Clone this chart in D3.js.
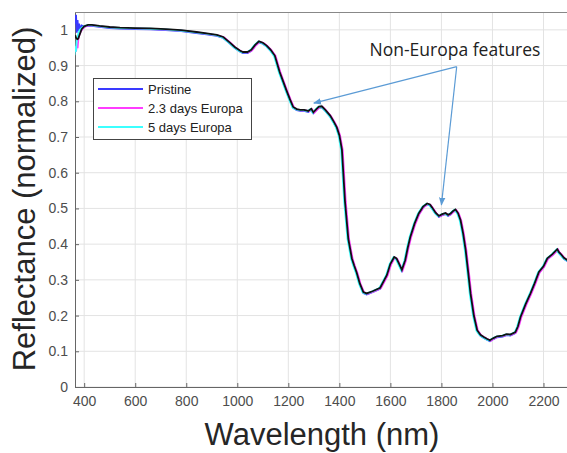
<!DOCTYPE html>
<html>
<head>
<meta charset="utf-8">
<script src="https://cdn.jsdelivr.net/npm/d3@7"></script>
<style>
  body { margin: 0; background: #fff; }
  .tick text { font-family: "Liberation Sans", Arial, sans-serif; font-size: 14px; fill: #4d4d4d; }
</style>
</head>
<body>
<div id="chart"></div>
<script>
//////////
// Data //
//////////

// wavelengths (nm) for the noisy detector start, per series
var headWl = [365, 368, 371, 374, 377, 380, 385, 390, 400];
var headPristine = [1.020, 1.045, 0.995, 1.030, 1.000, 1.020, 1.005, 1.015, 1.012];
var headDay23    = [0.940, 0.960, 0.950, 0.975, 0.985, 0.990, 0.998, 1.003, 1.010];
var headDay5     = [0.930, 0.955, 0.940, 0.970, 0.980, 0.990, 1.000, 1.004, 1.010];
var headRef      = [0.985, 0.978, 0.975, 0.974, 0.976, 0.982, 0.992, 1.002, 1.010];

// shared part of the spectrum (all four curves overlap here)
var wl = [415, 430, 460, 500, 540, 600, 660, 720, 780, 840, 880, 920, 945, 970, 990,
  1010, 1022, 1040, 1055, 1070, 1085, 1100, 1115, 1130, 1147, 1166, 1180, 1193, 1206,
  1219, 1233, 1247, 1262, 1278, 1290, 1298, 1310, 1320, 1331, 1345, 1364, 1378, 1390,
  1400, 1410, 1422, 1435, 1449, 1458, 1468, 1480, 1494, 1507, 1530, 1560, 1586, 1600,
  1615, 1624, 1632, 1645, 1658, 1668, 1678, 1695, 1711, 1728, 1744, 1755, 1763, 1777,
  1790, 1803, 1816, 1826, 1836, 1846, 1855, 1865, 1875, 1885, 1895, 1905, 1914, 1927,
  1940, 1953, 1966, 1978, 1990, 2004, 2018, 2040, 2055, 2070, 2090, 2100, 2110, 2130,
  2149, 2165, 2182, 2200, 2215, 2235, 2254, 2260, 2267, 2280, 2294, 2300];
var refl = [1.014, 1.014, 1.011, 1.008, 1.006, 1.005, 1.004, 1.002, 0.999, 0.994, 0.990, 0.986, 0.980, 0.965, 0.952,
  0.942, 0.938, 0.938, 0.944, 0.958, 0.968, 0.964, 0.956, 0.945, 0.928, 0.882, 0.855, 0.830, 0.806,
  0.784, 0.778, 0.776, 0.776, 0.773, 0.779, 0.769, 0.778, 0.785, 0.786, 0.776, 0.760, 0.743, 0.727,
  0.705, 0.665, 0.520, 0.415, 0.360, 0.340, 0.320, 0.290, 0.266, 0.262, 0.268, 0.278, 0.313, 0.345,
  0.364, 0.360, 0.348, 0.328, 0.355, 0.390, 0.420, 0.458, 0.486, 0.505, 0.514, 0.511, 0.503, 0.488,
  0.479, 0.484, 0.487, 0.482, 0.486, 0.493, 0.497, 0.487, 0.467, 0.430, 0.383, 0.320, 0.262, 0.200,
  0.159, 0.146, 0.140, 0.135, 0.131, 0.137, 0.142, 0.144, 0.148, 0.147, 0.154, 0.170, 0.196, 0.232,
  0.262, 0.290, 0.322, 0.338, 0.360, 0.372, 0.386, 0.378, 0.373, 0.362, 0.355, 0.353];

var xTicks = [400, 600, 800, 1000, 1200, 1400, 1600, 1800, 2000, 2200];
var yTicks = [0, 0.1, 0.2, 0.3, 0.4, 0.5, 0.6, 0.7, 0.8, 0.9, 1];

var seriesNames = ["Pristine", "2.3 days Europa", "5 days Europa"];
var seriesColors = ["#3a3aff", "#ff3cff", "#3cffff"];

function toPoints(hw, hv) {
  var pts = hw.map(function(w, i) { return [w, hv[i]]; });
  return pts.concat(wl.map(function(w, i) { return [w, refl[i]]; }));
}

var series = [
  {name: seriesNames[0], color: seriesColors[0], pts: toPoints(headWl, headPristine), dx: 0, dy: 1},
  {name: seriesNames[1], color: seriesColors[1], pts: toPoints(headWl, headDay23), dx: 0.8, dy: 0.4},
  {name: seriesNames[2], color: seriesColors[2], pts: toPoints(headWl, headDay5), dx: -0.8, dy: 0.3}
];
var refPts = toPoints(headWl, headRef);

//////////////
// Chart    //
//////////////

var W = 567, H = 453;
var margin = {left: 75, right: 569, top: 12, bottom: 387};

var x = d3.scaleLinear().domain([364, 2300]).range([margin.left, margin.right]);
var y = d3.scaleLinear().domain([0, 1.05]).range([margin.bottom, margin.top]);

var svg = d3.select("#chart").append("svg")
    .attr("width", W)
    .attr("height", H);

var defs = svg.append("defs");
defs.append("clipPath").attr("id", "clip")
  .append("rect").attr("x", margin.left).attr("y", margin.top)
    .attr("width", margin.right - margin.left).attr("height", margin.bottom - margin.top);

// grid
svg.append("g").selectAll("line").data(xTicks).enter().append("line")
    .attr("x1", function(d) { return x(d); }).attr("x2", function(d) { return x(d); })
    .attr("y1", margin.top).attr("y2", margin.bottom)
    .attr("stroke", "#e3e3e3").attr("stroke-width", 1);
svg.append("g").selectAll("line").data(yTicks).enter().append("line")
    .attr("x1", margin.left).attr("x2", margin.right)
    .attr("y1", function(d) { return y(d); }).attr("y2", function(d) { return y(d); })
    .attr("stroke", "#e3e3e3").attr("stroke-width", 1);

// axes (ticks point inward, matlab style)
var xAxis = d3.axisBottom(x).tickValues(xTicks).tickSizeInner(-4).tickSizeOuter(0).tickPadding(9)
    .tickFormat(d3.format("d"));
var yAxis = d3.axisLeft(y).tickValues(yTicks).tickSizeInner(-4).tickSizeOuter(0).tickPadding(7)
    .tickFormat(function(d) { return d === 0 || d === 1 ? d : d3.format(".1f")(d); });

function styleAxis(g) {
  g.select(".domain").attr("stroke", "#666");
  g.selectAll(".tick line").attr("stroke", "#666");
}

svg.append("g")
    .attr("transform", "translate(0," + margin.bottom + ")")
    .call(xAxis)
    .call(styleAxis);

svg.append("g")
    .attr("transform", "translate(" + margin.left + ",0)")
    .call(yAxis)
    .call(styleAxis);

// top border
svg.append("line").attr("x1", margin.left).attr("x2", margin.right)
    .attr("y1", margin.top + 0.5).attr("y2", margin.top + 0.5)
    .attr("stroke", "#888").attr("stroke-width", 1);

// curves
var line = d3.line().x(function(d) { return x(d[0]); }).y(function(d) { return y(d[1]); });
var plot = svg.append("g").attr("clip-path", "url(#clip)");

series.forEach(function(s) {
  plot.append("path")
      .attr("d", line(s.pts))
      .attr("transform", "translate(" + s.dx + "," + s.dy + ")")
      .attr("fill", "none")
      .attr("stroke", s.color)
      .attr("stroke-width", 1.8);
});
plot.append("path")
    .attr("d", line(refPts))
    .attr("fill", "none")
    .attr("stroke", "#111")
    .attr("stroke-width", 1.8);

// axis titles
svg.append("text")
    .attr("x", 322).attr("y", 445)
    .attr("text-anchor", "middle")
    .style("font-family", "Liberation Sans, Arial, sans-serif")
    .style("font-size", "31px")
    .attr("fill", "#262626")
    .text("Wavelength (nm)");

svg.append("text")
    .attr("transform", "translate(35,199) rotate(-90)")
    .attr("text-anchor", "middle")
    .style("font-family", "Liberation Sans, Arial, sans-serif")
    .style("font-size", "31px")
    .attr("fill", "#262626")
    .text("Reflectance (normalized)");

// legend
var lg = svg.append("g");
lg.append("rect")
    .attr("x", 93.5).attr("y", 78.5).attr("width", 158).attr("height", 61)
    .attr("fill", "#fff").attr("stroke", "#444").attr("stroke-width", 1);
series.forEach(function(s, i) {
  var ly = 89 + i * 19;
  lg.append("line").attr("x1", 98).attr("x2", 143).attr("y1", ly).attr("y2", ly)
      .attr("stroke", s.color).attr("stroke-width", 1.8);
  lg.append("text").attr("x", 148).attr("y", ly + 4.5)
      .style("font-family", "Liberation Sans, Arial, sans-serif")
      .style("font-size", "13px")
      .attr("fill", "#222")
      .text(s.name);
});

// annotation
var arrowColor = "#5b9bd5";
defs.append("marker")
    .attr("id", "ah").attr("viewBox", "0 0 10 10").attr("refX", 9).attr("refY", 5)
    .attr("markerWidth", 8).attr("markerHeight", 8).attr("orient", "auto")
    .attr("markerUnits", "userSpaceOnUse")
  .append("path").attr("d", "M0,1 L10,5 L0,9 z").attr("fill", arrowColor);

var origin = [456.7, 66.7];
var tips = [[x(1300), y(0.795)], [x(1800), y(0.51)]];
tips.forEach(function(t) {
  svg.append("line")
      .attr("x1", origin[0]).attr("y1", origin[1]).attr("x2", t[0]).attr("y2", t[1])
      .attr("stroke", arrowColor).attr("stroke-width", 1.2)
      .attr("marker-end", "url(#ah)");
});

svg.append("text")
    .attr("x", 455).attr("y", 56)
    .attr("text-anchor", "middle")
    .style("font-family", "Open Sans, sans-serif")
    .style("font-size", "17.5px")
    .attr("fill", "#222")
    .text("Non-Europa features");
</script>
</body>
</html>
